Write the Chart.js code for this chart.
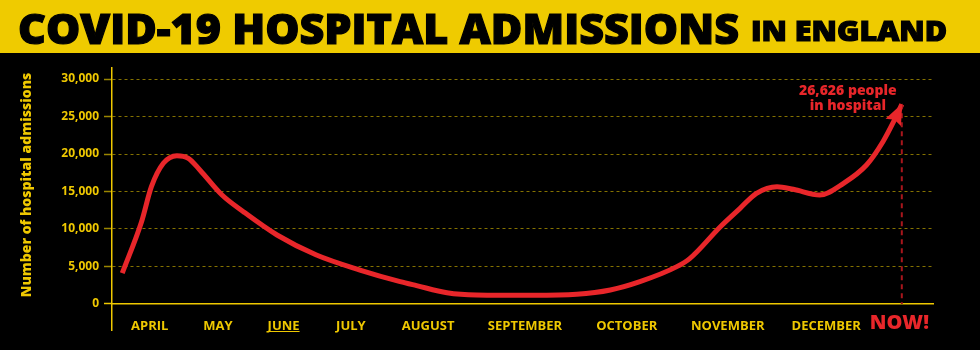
<!DOCTYPE html>
<html>
<head>
<meta charset="utf-8">
<script src="https://cdn.jsdelivr.net/npm/chart.js@4.4.0/dist/chart.umd.min.js"></script>
<style>
  html, body { margin: 0; padding: 0; background: #000; }
  #wrap { position: relative; width: 980px; height: 350px; overflow: hidden; }
  #bar { position: absolute; left: 0; top: 0; width: 980px; height: 53px; background: #efcb00; }
  .t { position: absolute; font-family: "Open Sans", sans-serif; font-weight: 800; color: #000;
       white-space: nowrap; transform-origin: 0 0; -webkit-text-stroke: 1.2px #000; line-height: 1; }
  #canvasBox { position: absolute; left: 0; top: 0; width: 980px; height: 350px; }
</style>
</head>
<body>
<div id="wrap">
  <div id="canvasBox"><canvas id="hospChart" width="980" height="350"></canvas></div>
  <div id="bar"></div>
  <span class="t" id="t1" style="font-size:42px;">COVID-19 HOSPITAL ADMISSIONS</span>
  <span class="t" id="t2" style="font-size:28px;">IN ENGLAND</span>
</div>
<script>
// position along the timeline (0 = y axis, 100 = right end of the plot)
const timeline = [1.25, 3.6, 4.8, 6.25, 7.9, 9.3, 10.7, 13.4, 16.0, 20.1, 24.9, 30.2, 35.1, 37.1,
                  40.8, 44.4, 51.3, 56.6, 60.7, 64.3, 68.8, 70.4, 74.1, 76.5, 78.5, 81.0, 83.0,
                  86.2, 89.1, 91.9, 93.9, 95.2, 96.2];
const admissions = [4100, 10970, 15640, 18760, 19780, 19420, 17870, 14530, 12310, 9200, 6530, 4530,
                    2980, 2450, 1510, 1200, 1150, 1290, 1870, 2980, 4980, 6090, 10310, 12760, 14760,
                    15640, 15290, 14530, 16090, 18530, 21640, 24310, 26626];

const monthLabels = ['APRIL', 'MAY', 'JUNE', 'JULY', 'AUGUST', 'SEPTEMBER', 'OCTOBER', 'NOVEMBER', 'DECEMBER', 'NOW!'];
const monthPos = [4.6, 12.9, 20.9, 29.1, 38.5, 50.3, 62.7, 75.0, 87.0, 95.9];
const yTicks = [0, 5000, 10000, 15000, 20000, 25000, 30000];

const YELLOW = '#efc800';
const RED = '#e8262a';
const LAST = monthLabels.length - 1;

// fit the html title to its width
function fitTitle(id, left, top, width) {
  const el = document.getElementById(id);
  const w = el.getBoundingClientRect().width;
  el.style.left = left + 'px';
  el.style.top = top + 'px';
  el.style.transform = 'scaleX(' + (width / w) + ')';
}
fitTitle('t1', 18, 7, 721);
fitTitle('t2', 751, 16, 196);

const extras = {
  id: 'extras',
  afterDatasetsDraw(chart) {
    const ctx = chart.ctx;
    const pts = chart.getDatasetMeta(0).data;
    const tip = pts[pts.length - 1];
    const prev = pts[pts.length - 2];
    const y0 = chart.scales.y.getPixelForValue(0);

    // dashed drop line
    ctx.save();
    ctx.strokeStyle = '#a8161c';
    ctx.lineWidth = 2;
    ctx.setLineDash([5, 4]);
    ctx.beginPath();
    ctx.moveTo(tip.x, tip.y);
    ctx.lineTo(tip.x, y0);
    ctx.stroke();
    ctx.restore();

    // arrow head
    const ang = Math.atan2(tip.y - prev.y, tip.x - prev.x);
    const len = 20, half = 8.5;
    ctx.save();
    ctx.fillStyle = RED;
    ctx.translate(tip.x, tip.y);
    ctx.rotate(ang);
    ctx.beginPath();
    ctx.moveTo(1, 0);
    ctx.lineTo(-len, -half);
    ctx.lineTo(-len + 3, 0);
    ctx.lineTo(-len, half);
    ctx.closePath();
    ctx.fill();
    ctx.restore();

    // note
    ctx.save();
    ctx.fillStyle = RED;
    ctx.font = '800 14px "Open Sans"';
    ctx.textAlign = 'center';
    ctx.textBaseline = 'middle';
    ctx.fillText(admissions[admissions.length - 1].toLocaleString('en-GB') + ' people', tip.x - 54, tip.y - 13);
    ctx.fillText('in hospital', tip.x - 54, tip.y + 2);
    ctx.restore();

    // y axis title
    ctx.save();
    ctx.fillStyle = YELLOW;
    ctx.font = '800 14px "Open Sans"';
    ctx.textAlign = 'center';
    ctx.textBaseline = 'middle';
    ctx.translate(27, 185);
    ctx.rotate(-Math.PI / 2);
    ctx.fillText('Number of hospital admissions', 0, 0);
    ctx.restore();

    // NOW! marker label, drawn on the x scale
    const xs = chart.scales.x;
    ctx.save();
    ctx.fillStyle = RED;
    ctx.font = '800 20px "Open Sans"';
    ctx.textAlign = 'center';
    ctx.textBaseline = 'middle';
    ctx.fillText(monthLabels[LAST], xs.getPixelForValue(monthPos[LAST]), 323);
    ctx.restore();

    // underline under JUNE, as in the original
    const jx = xs.getPixelForValue(monthPos[2]);
    ctx.save();
    ctx.font = 'bold 13px "Open Sans"';
    const jw = ctx.measureText('JUNE').width;
    ctx.strokeStyle = YELLOW;
    ctx.lineWidth = 1;
    ctx.beginPath();
    ctx.moveTo(jx - jw / 2, 331.5);
    ctx.lineTo(jx + jw / 2, 331.5);
    ctx.stroke();
    ctx.restore();
  }
};

new Chart(document.getElementById('hospChart'), {
  type: 'line',
  data: {
    datasets: [{
      data: timeline.map((x, i) => ({ x: x, y: admissions[i] })),
      borderColor: RED,
      borderWidth: 5,
      borderCapStyle: 'butt',
      pointRadius: 0,
      cubicInterpolationMode: 'monotone',
      fill: false
    }]
  },
  options: {
    responsive: false,
    animation: false,
    layout: { padding: { left: 0, right: 47, top: 68, bottom: 20 } },
    plugins: { legend: { display: false }, tooltip: { enabled: false } },
    scales: {
      x: {
        type: 'linear',
        position: { y: 0 },
        min: 0,
        max: 100,
        afterBuildTicks: s => { s.ticks = monthPos.map(v => ({ value: v })); },
        grid: { display: false },
        border: { color: YELLOW, width: 1.5 },
        ticks: {
          padding: 7,
          maxRotation: 0,
          autoSkip: false,
          callback: (v, i) => i === LAST ? '' : monthLabels[i],
          color: YELLOW,
          font: { family: 'Open Sans', weight: 'bold', size: 13 }
        }
      },
      y: {
        min: -3470,
        max: 31470,
        afterFit: s => { s.width = 112; },
        afterBuildTicks: s => { s.ticks = yTicks.map(v => ({ value: v })); },
        border: { color: YELLOW, width: 1.5, dash: [3, 3] },
        grid: {
          color: '#857200',
          lineWidth: 1,
          tickLength: 8,
          tickColor: c => c.tick && c.tick.value === 0 ? YELLOW : '#9a8600',
          tickWidth: 1.5,
          tickBorderDash: []
        },
        ticks: {
          padding: 5,
          color: YELLOW,
          font: { family: 'Open Sans', weight: 'bold', size: 12 },
          callback: v => v.toLocaleString('en-GB')
        }
      }
    }
  },
  plugins: [extras]
});
</script>
</body>
</html>
